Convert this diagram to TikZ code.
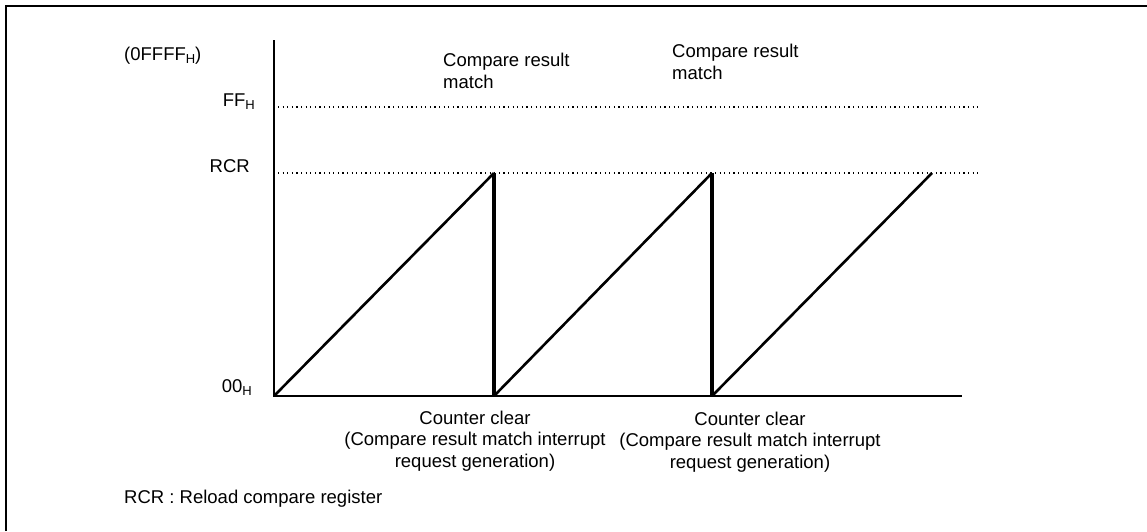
\documentclass[tikz,border=0pt]{standalone}
\usepackage{fontspec}
\setmainfont{Liberation Sans}
\newcommand{\hsub}{\raisebox{-3pt}{\fontsize{13}{13}\selectfont H}}
\begin{document}
\begin{tikzpicture}[x=1pt,y=-1pt,
  every node/.style={inner sep=0pt, font=\fontsize{18.5}{21.5}\selectfont},
  frameline/.style={line width=2pt},
  axisline/.style={line width=2pt},
  ramp/.style={line width=2.6pt},
  clearline/.style={line width=3.8pt},
  levelline/.style={line width=1.2pt, dash pattern=on 1.2pt off 3.4pt},
  lbl/.style={anchor=base east},
  note/.style={anchor=base west, align=left},
  clearnote/.style={anchor=base, align=center}]
\useasboundingbox (0,0) rectangle (1147,531);
% frame
\draw[frameline] (6,531) -- (6,6) -- (1147,6);
% axes
\coordinate (ytop) at (274,40);
\coordinate (orig) at (274,396);
\coordinate (xend) at (962,396);
\draw[axisline] (ytop) -- (orig) -- (xend);
% level lines
\coordinate (ffa) at (278,107);
\coordinate (ffb) at (978,107);
\coordinate (rca) at (278,173);
\coordinate (rcb) at (978,173);
\draw[levelline] (ffa) -- (ffb);
\draw[levelline] (rca) -- (rcb);
% sawtooth
\coordinate (p1) at (494,173);
\coordinate (c1) at (494,396);
\coordinate (p2) at (712,173);
\coordinate (c2) at (712,396);
\coordinate (p3) at (932,173);
\draw[ramp] (orig) -- (p1);
\draw[clearline] (p1) -- (c1);
\draw[ramp] (c1) -- (p2);
\draw[clearline] (p2) -- (c2);
\draw[ramp] (c2) -- (p3);
% axis labels
\node[anchor=base west] (top) at (124,60) {(0FFFF\hsub)};
\node[lbl] (ff) at (255,106) {FF\hsub};
\node[lbl] (rcr) at (250,172) {RCR};
\node[lbl] (zero) at (252,392) {00\hsub};
% notes (base anchor = baseline of last line)
\node[note] (m1) at (443,88) {Compare result\\match};
\node[note] (m2) at (672,79) {Compare result\\match};
\node[clearnote] (cc1) at (475,467) {Counter clear\\(Compare result match interrupt\\request generation)};
\node[clearnote] (cc2) at (750,468) {Counter clear\\(Compare result match interrupt\\request generation)};
\node[anchor=base west] (legend) at (124,503) {RCR : Reload compare register};
\end{tikzpicture}
\end{document}
